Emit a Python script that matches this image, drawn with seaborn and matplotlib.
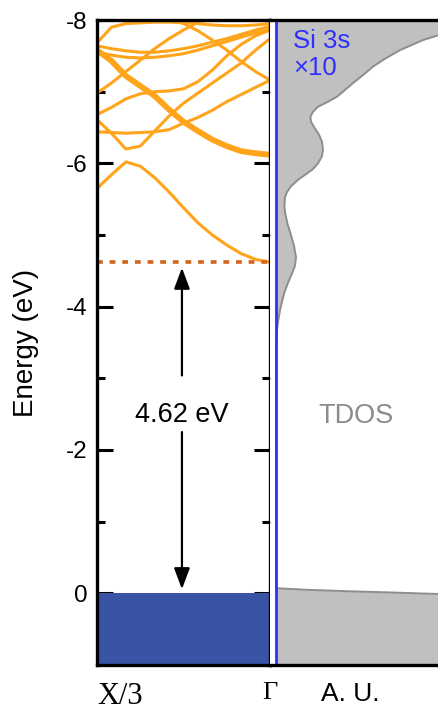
import numpy as np
import pandas as pd
import matplotlib
matplotlib.use("Agg")
import matplotlib.pyplot as plt
import seaborn as sns

# ---- band structure along X/3 -> Gamma (energies in eV, 13 k-points) ----
kpts = np.linspace(0.0, 1.0, 13)
cb_bands = {
    "c1": [-5.65, -5.84, -6.02, -5.96, -5.80, -5.60, -5.38, -5.17, -5.00, -4.86, -4.74, -4.66, -4.62],
    "c2": [-6.61, -6.42, -6.20, -6.24, -6.45, -6.66, -6.84, -6.98, -7.12, -7.26, -7.40, -7.58, -7.74],
    "c3": [-6.44, -6.43, -6.42, -6.43, -6.44, -6.47, -6.56, -6.64, -6.74, -6.86, -6.96, -7.06, -7.16],
    "c5": [-6.68, -6.78, -6.90, -6.97, -7.00, -7.01, -7.04, -7.14, -7.30, -7.50, -7.66, -7.78, -7.86],
    "c6": [-6.98, -7.12, -7.28, -7.44, -7.60, -7.74, -7.86, -7.97, -8.06, -8.12, -8.16, -8.18, -8.20],
    "c7": [-7.64, -7.60, -7.57, -7.55, -7.55, -7.57, -7.60, -7.64, -7.69, -7.74, -7.80, -7.86, -7.91],
    "c8": [-7.55, -7.51, -7.48, -7.47, -7.48, -7.50, -7.53, -7.58, -7.64, -7.70, -7.76, -7.82, -7.87],
    "c9": [-8.20, -8.18, -8.15, -8.12, -8.08, -8.02, -7.95, -7.85, -7.72, -7.58, -7.42, -7.28, -7.16],
    "c10": [-7.68, -7.90, -7.95, -7.96, -7.97, -7.97, -7.96, -7.95, -7.93, -7.92, -7.92, -7.93, -7.95],
}
# doubly degenerate band, drawn heavier
cb_thick = [-7.58, -7.43, -7.22, -7.08, -6.94, -6.75, -6.58, -6.45, -6.33, -6.24, -6.17, -6.14, -6.12]
# top of the (dense) valence manifold
vb_top = [0.0, 0.0, 0.0, 0.0, 0.0, 0.0, 0.0, 0.0, 0.0, 0.0, 0.0, 0.0, 0.0]

vbm = 0.0
cbm = -4.62
gap = vbm - cbm

# ---- densities of states (arbitrary units) ----
dos_energy = [-8.3, -8.0, -7.9, -7.79, -7.72, -7.58, -7.46, -7.35, -7.22, -7.12, -7.0,
              -6.93, -6.86, -6.79, -6.72, -6.65, -6.58, -6.5, -6.4, -6.3, -6.19, -6.1,
              -6.0, -5.92, -5.85, -5.77, -5.68, -5.6, -5.53, -5.4, -5.3, -5.15, -5.0,
              -4.85, -4.69, -4.57, -4.45, -4.32, -4.2, -4.07, -3.95, -3.8, -3.67,
              -3.5, -3.4, -0.09, -0.07, -0.05, -0.03, -0.01, 0.01, 0.03, 0.2, 1.2]
tdos = [12.0, 10.0, 9.3, 8.15, 7.35, 6.2, 5.45, 4.85, 4.3, 3.85, 3.35,
        3.05, 2.6, 2.1, 1.85, 1.72, 1.75, 1.92, 2.15, 2.3, 2.35, 2.3,
        2.1, 1.85, 1.5, 1.1, 0.75, 0.55, 0.45, 0.42, 0.46, 0.58, 0.75,
        0.9, 1.0, 0.95, 0.78, 0.58, 0.42, 0.3, 0.2, 0.11, 0.05,
        0.01, 0.0, 0.0, 0.1, 1.5, 3.5, 6.0, 8.2, 9.6, 12.0, 12.0]
si3s_x10 = [0.0] * len(dos_energy)

orange = "#ffa41b"
cbm_color = "#cf651f"
vb_color = "#3a54a5"
blue = "#2f2fff"

sns.set_theme(style="ticks")
plt.rcParams["font.family"] = ["Liberation Sans", "DejaVu Sans"]
plt.rcParams["axes.unicode_minus"] = False
for key in ("text.color", "axes.labelcolor", "xtick.color", "ytick.color",
            "xtick.labelcolor", "ytick.labelcolor"):
    plt.rcParams[key] = "black"

fig = plt.figure(figsize=(4.39, 7.11), dpi=100)
ax1 = fig.add_axes([97 / 439, 46 / 711, 173 / 439, 645 / 711])
ax2 = fig.add_axes([270 / 439, 46 / 711, 190 / 439, 645 / 711], sharey=ax1)

# ---------------- band structure panel ----------------
ax1.fill_between(kpts, vb_top, 1.2, color=vb_color, lw=0)

rows = []
for name, energies in cb_bands.items():
    for k, e in zip(kpts, energies):
        rows.append({"band": name, "k": k, "E": e})
bands_df = pd.DataFrame(rows)
sns.lineplot(data=bands_df, x="k", y="E", units="band", estimator=None, sort=False,
             color=orange, lw=2.2, ax=ax1)
sns.lineplot(x=kpts, y=cb_thick, color=orange, lw=4.2, ax=ax1, sort=False)

ax1.plot([kpts[0], kpts[-1]], [cbm, cbm], color=cbm_color, lw=2.6,
         linestyle=(0, (1.6, 1.9)), dash_capstyle="butt")

k_arrow = 0.491
arrow_kw = dict(arrowstyle="-|>,head_length=0.4,head_width=0.15", color="black",
                lw=1.6, shrinkA=0, mutation_scale=32)
ax1.annotate("", xy=(k_arrow, cbm), xytext=(k_arrow, -3.04),
             arrowprops=dict(shrinkB=4, **arrow_kw))
ax1.annotate("", xy=(k_arrow, vbm), xytext=(k_arrow, -2.25),
             arrowprops=dict(shrinkB=3, **arrow_kw))
ax1.text(k_arrow, -2.39, f"{gap:.2f} eV", ha="center", va="baseline",
         fontsize=19.5, color="black")

ax1.set_xlim(0, 1)
ax1.set_ylim(1, -8)
ax1.set_yticks([-8, -6, -4, -2, 0])
ax1.set_yticklabels(["-8", "-6", "-4", "-2", "0"])
ax1.set_yticks([-7, -5, -3, -1], minor=True)
ax1.tick_params(axis="y", which="major", direction="in", left=True, right=True,
                length=11.5, width=2.2, labelsize=17.5, pad=7, color="black",
                labelcolor="black")
ax1.tick_params(axis="y", which="minor", direction="in", left=True, right=True,
                length=5.8, width=2.2, color="black")
ax1.set_xticks([0, 1])
ax1.set_xticklabels(["X/3", "\u0393"], fontsize=19,
                    fontfamily=["Liberation Serif", "DejaVu Serif"], color="black")
ax1.get_xticklabels()[0].set_ha("left")
ax1.get_xticklabels()[0].set_fontsize(22)
ax1.tick_params(axis="x", length=0, pad=12)
ax1.set_xlabel("")
ax1.set_ylabel("Energy (eV)", fontsize=20, color="black")
ax1.yaxis.set_label_coords(-0.335, 0.5)
for sp in ax1.spines.values():
    sp.set_linewidth(2.4)
    sp.set_color("black")
    sp.set_visible(True)

# ---------------- density of states panel ----------------
ax2.fill_betweenx(dos_energy, 0, tdos, color="#c0c0c0", lw=0)
ax2.plot(tdos, dos_energy, color="#8e8e8e", lw=1.4)
sns.lineplot(x=si3s_x10, y=dos_energy, orient="y", sort=False, color=blue, lw=2.0, ax=ax2)

ax2.text(0.85, -7.61, "Si 3s", color=blue, fontsize=18.5, ha="left", va="baseline")
ax2.text(0.85, -7.23, "\u00d710", color=blue, fontsize=18.5, ha="left", va="baseline")
ax2.text(4.0, -2.37, "TDOS", color="#8c8c8c", fontsize=19.5, ha="center", va="baseline")

ax2.set_xlim(-0.3, 9.2)
ax2.set_xticks([3.7])
ax2.set_xticklabels(["A. U."], fontsize=19, color="black")
ax2.tick_params(axis="x", length=0, pad=12)
ax2.tick_params(axis="y", left=False, right=False, labelleft=False)
ax2.set_xlabel("")
ax2.set_ylabel("")
ax2.spines["left"].set_visible(False)
ax2.spines["right"].set_visible(False)
for side in ("top", "bottom"):
    ax2.spines[side].set_linewidth(2.4)
    ax2.spines[side].set_color("black")
ax2.set_ylim(1, -8)

fig.savefig("out.png", dpi=100)
